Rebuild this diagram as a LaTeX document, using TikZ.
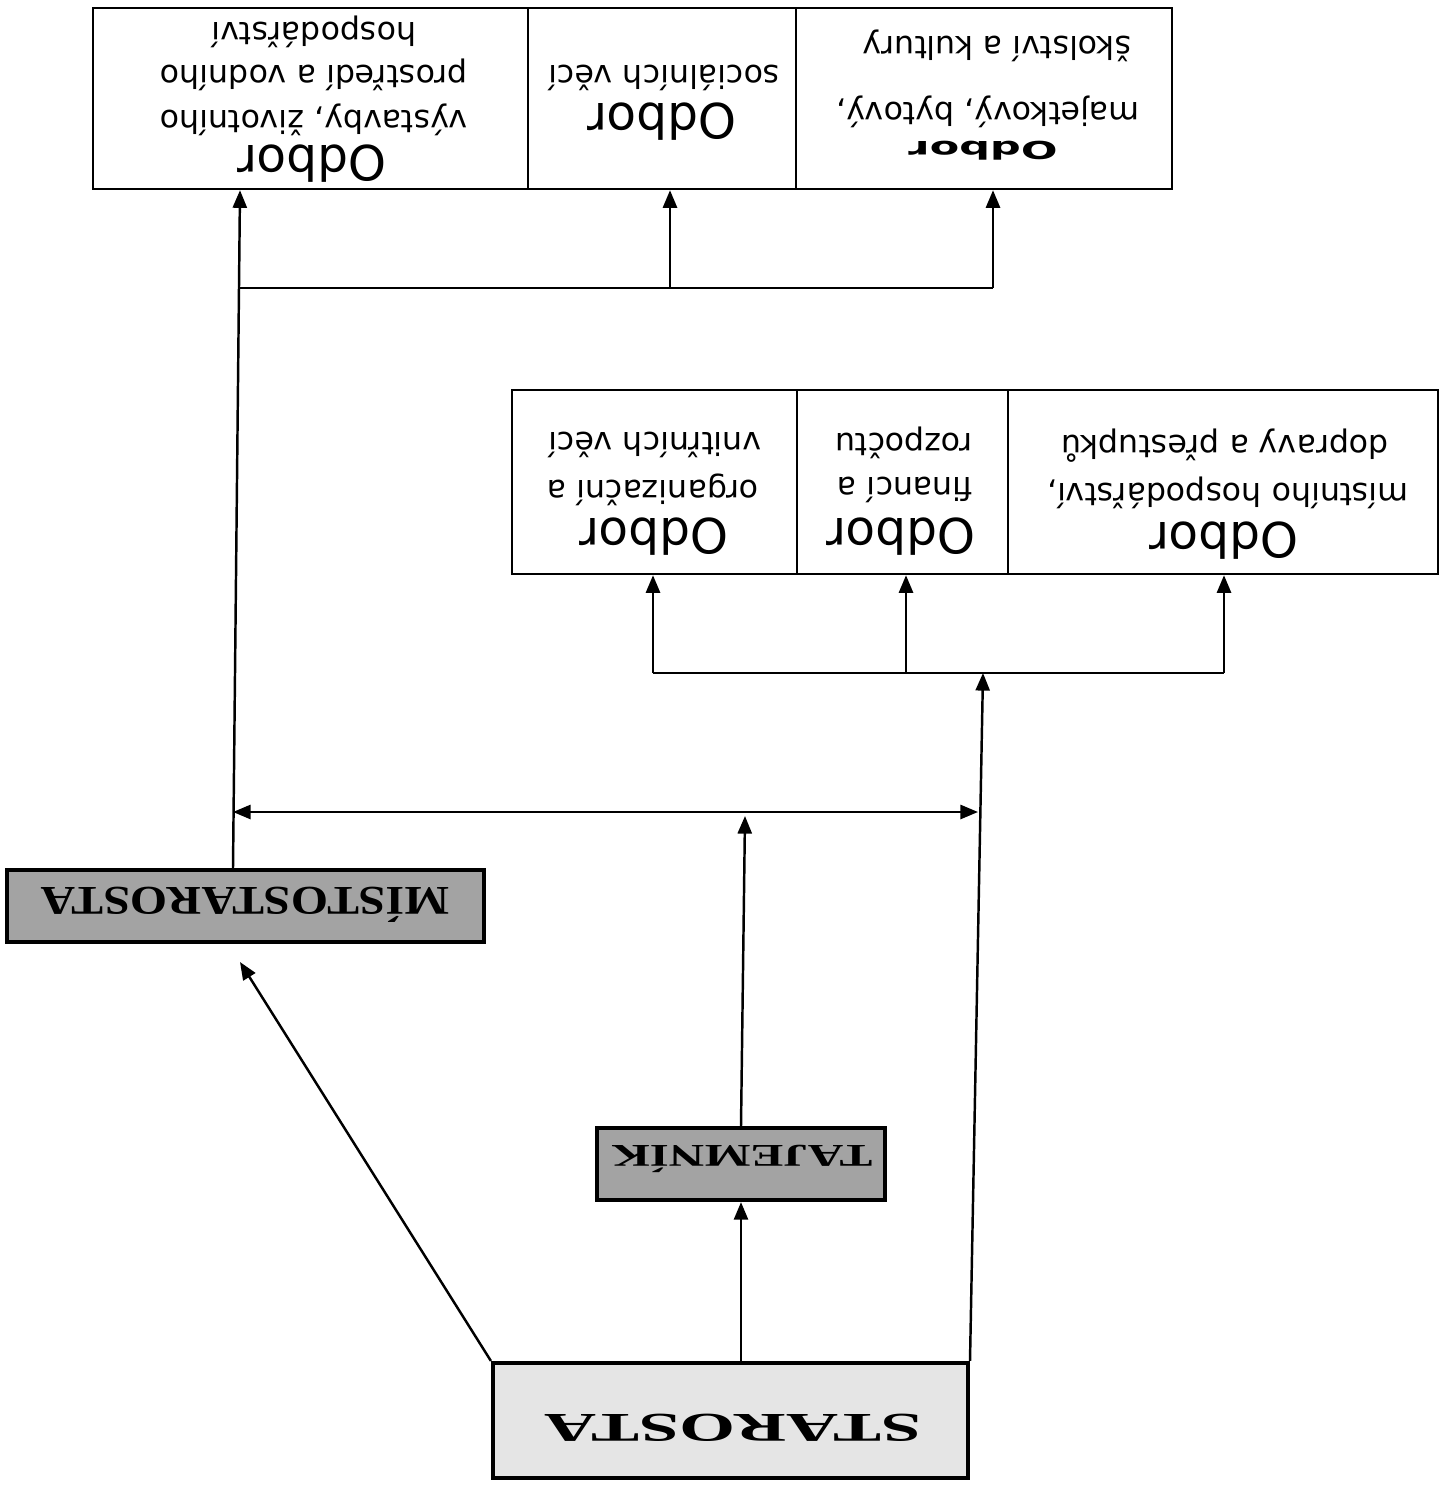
\documentclass[tikz,border=0pt]{standalone}
\usepackage{fontspec}
\usepackage{graphicx}
\newfontfamily\dvs{DejaVu Sans}
\newfontfamily\lser{Liberation Serif}
\usetikzlibrary{arrows.meta}
\newlength\pxu \setlength\pxu{0.01cm}
\begin{document}
\begin{tikzpicture}[x=0.01cm,y=-0.01cm,
  box/.style={draw, line width=0.7pt, inner sep=0pt, fill=white},
  gbox/.style={draw, line width=1.2pt, inner sep=0pt},
  txt/.style={rotate=180, inner sep=0pt, font=\dvs\fontsize{9}{11}\selectfont},
  otxt/.style={rotate=180, inner sep=0pt, font=\dvs\fontsize{13.8}{16}\selectfont},
  gtxt/.style={rotate=180, inner sep=0pt},
  conn/.style={line width=0.7pt},
  arr/.style={conn, -{Triangle[length=5pt,width=4pt]}},
  darr/.style={conn, {Triangle[length=5pt,width=4pt]}-{Triangle[length=5pt,width=4pt]}},
]
\useasboundingbox (0,0) rectangle (1447,1488);

% top row
\node[box, minimum width=435\pxu, minimum height=181\pxu] (bA) at (310.5,98.5) {};
\node[box, minimum width=268\pxu, minimum height=181\pxu] (bB) at (662,98.5) {};
\node[box, minimum width=376\pxu, minimum height=181\pxu] (bC) at (984,98.5) {};

\node[otxt] (tA1) at (312,164) {Odbor};
\node[txt] (tA2) at (314,120) {výstavby, životního};
\node[txt] (tA3) at (314,75) {prostředí a vodního};
\node[txt] (tA4) at (314,32) {hospodářství};

\node[otxt] (tB1) at (662,122) {Odbor};
\node[txt] (tB2) at (664,78) {sociálních věcí};

\node[rotate=180, inner sep=0pt, font=\dvs\bfseries\fontsize{7}{8}\selectfont] (tC1) at (983,151) {\scalebox{1.75}[1]{Odbor}};
\node[txt] (tC2) at (988,112) {majetkový, bytový,};
\node[txt] (tC3) at (997,46) {školství a kultury};

% middle row
\node[box, minimum width=285\pxu, minimum height=184\pxu] (bD) at (654.5,482) {};
\node[box, minimum width=211\pxu, minimum height=184\pxu] (bE) at (902.5,482) {};
\node[box, minimum width=430\pxu, minimum height=184\pxu] (bF) at (1223,482) {};

\node[otxt] (tD1) at (654,537) {Odbor};
\node[txt] (tD2) at (653,490) {organizační a};
\node[txt] (tD3) at (655,445) {vnitřních věcí};

\node[otxt] (tE1) at (901,537) {Odbor};
\node[txt] (tE2) at (905,490) {financí a};
\node[txt] (tE3) at (904,443) {rozpočtu};

\node[otxt] (tF1) at (1224,541) {Odbor};
\node[txt] (tF2) at (1228,493) {místního hospodářství,};
\node[txt] (tF3) at (1225,446) {dopravy a přestupků};

% gray boxes
\node[gbox, fill=black!36, minimum width=477\pxu, minimum height=72\pxu] (m) at (245.5,906) {};
\node[gbox, fill=black!36, minimum width=288\pxu, minimum height=72\pxu] (t) at (741,1164) {};
\node[gbox, fill=black!10, minimum width=475\pxu, minimum height=115\pxu] (s) at (730.5,1420.5) {};

\node[gtxt, font=\lser\bfseries\fontsize{11.6}{13}\selectfont] (mt) at (245,905) {\scalebox{1.17}[1]{MÍSTOSTAROSTA}};
\node[gtxt, font=\lser\bfseries\fontsize{9}{10}\selectfont] (tt) at (742,1159) {\scalebox{1.55}[1]{TAJEMNÍK}};
\node[gtxt, font=\lser\bfseries\fontsize{11.6}{13}\selectfont] (st) at (733,1428) {\scalebox{1.76}[1]{STAROSTA}};

% connectors: top row
\coordinate (jA) at (240,288);
\coordinate (jB) at (670,288);
\coordinate (jC) at (993,288);
\draw[conn] (jA) -- (jC);
\draw[arr] (m.north -| 233,0) -- (bA.south -| jA);
\draw[arr] (jB) -- (bB.south -| jB);
\draw[arr] (jC) -- (bC.south -| jC);

% connectors: middle row
\coordinate (jD) at (653,673);
\coordinate (jE) at (906,673);
\coordinate (jF) at (1224,673);
\coordinate (jS) at (983,673);
\draw[conn] (jD) -- (jF);
\draw[arr] (jD) -- (bD.south -| jD);
\draw[arr] (jE) -- (bE.south -| jE);
\draw[arr] (jF) -- (bF.south -| jF);
\draw[arr] (s.north -| 970,0) -- (jS);

% double arrow
\coordinate (dL) at (233,812);
\coordinate (dR) at (978,812);
\draw[darr] (dL) -- (dR);

% tajemnik
\coordinate (tT) at (745,816);
\draw[arr] (t.north) -- (tT);
\draw[arr] (s.north -| t.south) -- (t.south);

% starosta to mistostarosta
\coordinate (mT) at (240,962);
\draw[arr] (s.north west) -- (mT);
\end{tikzpicture}
\end{document}
